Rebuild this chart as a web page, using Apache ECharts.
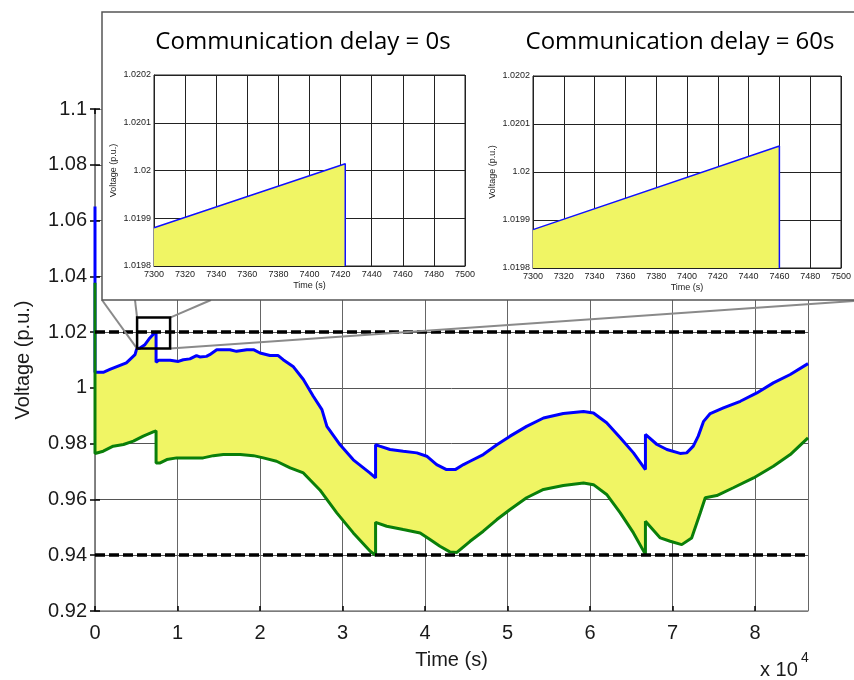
<!DOCTYPE html>
<html>
<head>
<meta charset="utf-8">
<script src="https://cdn.jsdelivr.net/npm/echarts@6/dist/echarts.min.js"></script>
<style>html,body{margin:0;padding:0;background:#fff}#c{width:854px;height:680px}</style>
</head>
<body>
<div id="c"></div>
<script>
// ---------------- data ----------------
// main chart: time (s) vs voltage (p.u.)
const upperVoltage = [
  [0,1.065],[0,1.0056],[1000,1.0056],[1800,1.0066],[3800,1.0090],[4850,1.0119],[5050,1.0140],[5450,1.0143],
  [6050,1.0155],[6650,1.0179],[7150,1.0195],[7400,1.0200],[7400,1.0092],[7700,1.0099],[9100,1.0099],
  [10100,1.0095],[10700,1.0101],[11500,1.0104],[12300,1.0116],[12700,1.0111],[13500,1.0113],[13900,1.0119],
  [14750,1.0137],[16350,1.0137],[17150,1.0131],[18400,1.0137],[19200,1.0137],[20000,1.0125],[21200,1.0116],
  [22200,1.0116],[22800,1.0101],[24000,1.0077],[25250,1.0030],[26450,0.9970],[27500,0.9922],[28100,0.9862],
  [29700,0.9796],[31300,0.9742],[33300,0.9695],[34000,0.9677],[34000,0.9796],[34500,0.9791],[35750,0.9779],
  [37350,0.9773],[39000,0.9767],[40200,0.9755],[41400,0.9725],[42600,0.9707],[43650,0.9707],[44650,0.9725],
  [45450,0.9737],[47050,0.9761],[48700,0.9796],[50300,0.9827],[52300,0.9862],[54350,0.9892],[56750,0.9908],
  [59200,0.9915],[60400,0.9910],[62000,0.9875],[63650,0.9821],[65250,0.9767],[66700,0.9707],[66700,0.9833],
  [68100,0.9797],[69300,0.9779],[70900,0.9765],[71700,0.9767],[72500,0.9791],[73100,0.9827],[73750,0.9880],
  [74550,0.9908],[76150,0.9928],[78200,0.9952],[80200,0.9982],[82200,1.0018],[84250,1.0048],[86400,1.0087]
];
const lowerVoltage = [
  [0,1.0377],[0,0.9765],[1000,0.9773],[2200,0.9791],[3450,0.9797],[4650,0.9809],[5850,0.9827],[7050,0.9842],
  [7400,0.9846],[7400,0.9731],[7900,0.9731],[8700,0.9743],[9900,0.9749],[13100,0.9749],[14350,0.9757],
  [15550,0.9761],[17600,0.9761],[19200,0.9757],[20400,0.9749],[22000,0.9737],[23650,0.9713],[25250,0.9695],
  [27250,0.9634],[29300,0.9552],[31300,0.9480],[33350,0.9414],[34000,0.9400],[34000,0.9518],[35350,0.9504],
  [37350,0.9492],[39400,0.9480],[40600,0.9456],[41800,0.9432],[43000,0.9412],[43850,0.9410],[45450,0.9450],
  [47050,0.9486],[48700,0.9528],[50300,0.9564],[52300,0.9606],[54350,0.9636],[56750,0.9650],[59200,0.9659],
  [60400,0.9653],[62000,0.9618],[63650,0.9552],[65250,0.9480],[66700,0.9403],[66700,0.9522],[68500,0.9462],
  [69700,0.9450],[71100,0.9438],[72300,0.9462],[73350,0.9552],[73950,0.9606],[75350,0.9614],[77350,0.9642],
  [79800,0.9677],[82200,0.9719],[84250,0.9761],[86400,0.9821]
];
const voltageLimits = [1.02, 0.94];
// zoom window shown on main chart [t0, t1, v0, v1]
const zoomWindow = [5100, 9100, 1.0141, 1.0252];

// inset charts
const insetTitles = ['Communication delay = 0s', 'Communication delay = 60s'];
const delay0 = [[7300,1.01988],[7423,1.020014],[7423,1.0198]];
const delay60 = [[7300,1.01988],[7460,1.020054],[7460,1.0198]];
const insetLimit = 1.02;

// ---------------- chart ----------------
const chart = echarts.init(document.getElementById('c'), null, {renderer:'canvas'});
const FONT = 'Liberation Sans, Arial, sans-serif';
const YELLOW = '#f0f564';

function insetX(grid){
  return {gridIndex:grid, type:'value', min:7300, max:7500, interval:20, z:60,
    name:'Time (s)', nameLocation:'middle', nameGap:15,
    nameTextStyle:{fontSize:9, color:'#222', fontFamily:FONT},
    axisLine:{lineStyle:{color:'#222', width:1}}, axisTick:{inside:true, length:2, lineStyle:{color:'#222'}},
    axisLabel:{fontSize:9, color:'#222', margin:4, interval:0, fontFamily:FONT, formatter:v=>String(v)},
    splitLine:{lineStyle:{color:'#222', width:1}}};
}
function insetY(grid){
  return {gridIndex:grid, type:'value', min:1.0198, max:1.0202, interval:0.0001, z:60,
    name:'Voltage (p.u.)', nameLocation:'middle', nameGap:36,
    nameTextStyle:{fontSize:9, color:'#222', fontFamily:FONT},
    axisLine:{lineStyle:{color:'#222', width:1}}, axisTick:{inside:true, length:2, lineStyle:{color:'#222'}},
    axisLabel:{fontSize:9, color:'#222', margin:3, fontFamily:FONT, formatter:v=>String(+v.toFixed(4))},
    splitLine:{lineStyle:{color:'#222', width:1}}};
}
function insetSeries(grid, data){
  return {type:'line', xAxisIndex:grid+1, yAxisIndex:grid+1, data:data, showSymbol:false, z:61,
    lineStyle:{color:'#1010ff', width:1.5}, areaStyle:{color:YELLOW, opacity:1, origin:'start'},
    clip:true, silent:true, animation:false,
    markLine:{symbol:'none', silent:true, animation:false, label:{show:false},
      lineStyle:{color:'#000', type:[4,2], width:1.5}, data:[{yAxis:insetLimit}]}};
}

const option = {
  animation:false,
  backgroundColor:'#fff',
  grid:[
    {left:95, right:46, top:109, bottom:69},
    {left:154, top:75, width:311, height:191, show:true, borderColor:'#222', borderWidth:1, z:60},
    {left:533, top:76, width:310, height:192, show:true, borderColor:'#222', borderWidth:1, z:60}
  ],
  xAxis:[
    {gridIndex:0, type:'value', min:0, max:86400, interval:10000, position:'bottom',
      name:'Time (s)', nameLocation:'middle', nameGap:39,
      nameTextStyle:{fontSize:20, color:'#1a1a1a', fontFamily:FONT},
      axisLine:{lineStyle:{color:'#888', width:1.5}},
      axisTick:{inside:true, length:5, lineStyle:{color:'#000', width:1.5}},
      axisLabel:{fontSize:20, color:'#1a1a1a', margin:12, fontFamily:FONT, showMaxLabel:false,
        formatter:v=>String(v/10000)},
      splitLine:{show:true, lineStyle:{color:'#666', width:1}}},
    {gridIndex:0, type:'value', min:0, max:86400, interval:10000, position:'top',
      axisLine:{lineStyle:{color:'#888', width:1}},
      axisTick:{inside:true, length:5, lineStyle:{color:'#000', width:1.5}},
      axisLabel:{show:false}, splitLine:{show:false}},
    insetX(1), insetX(2)
  ],
  yAxis:[
    {gridIndex:0, type:'value', min:0.92, max:1.1, interval:0.02, position:'left',
      name:'Voltage (p.u.)', nameLocation:'middle', nameGap:62,
      nameTextStyle:{fontSize:20, color:'#1a1a1a', fontFamily:FONT},
      axisLine:{lineStyle:{color:'#555', width:1.5}},
      axisTick:{inside:true, length:5, lineStyle:{color:'#000', width:1.5}},
      axisLabel:{fontSize:20, color:'#1a1a1a', margin:8, fontFamily:FONT,
        formatter:v=>String(+v.toFixed(2))},
      splitLine:{show:true, lineStyle:{color:'#555', width:1}}},
    {gridIndex:0, type:'value', min:0.92, max:1.1, interval:0.02, position:'right',
      axisLine:{lineStyle:{color:'#888', width:1.5}},
      axisTick:{inside:true, length:5, lineStyle:{color:'#000', width:1.5}},
      axisLabel:{show:false}, splitLine:{show:false}},
    insetY(1), insetY(2)
  ],
  series:[
    {type:'custom', xAxisIndex:0, yAxisIndex:0, z:1, silent:true, data:[[0,1]],
      renderItem:function(params, api){
        if (params.dataIndex > 0) return;
        const pts = upperVoltage.map(p=>api.coord(p))
          .concat(lowerVoltage.slice().reverse().map(p=>api.coord(p)));
        return {type:'polygon', shape:{points:pts}, style:{fill:YELLOW, stroke:null}};
      }},
    {type:'line', xAxisIndex:0, yAxisIndex:0, data:upperVoltage, showSymbol:false, z:2, silent:true,
      lineStyle:{color:'#0000ff', width:3}},
    {type:'line', xAxisIndex:0, yAxisIndex:0, data:lowerVoltage, showSymbol:false, z:3, silent:true,
      lineStyle:{color:'#0a7f0a', width:3}},
    {type:'line', xAxisIndex:0, yAxisIndex:0, data:[], z:4, silent:true,
      markLine:{symbol:'none', silent:true, animation:false, label:{show:false},
        lineStyle:{color:'#000', type:[10,4], width:3.5},
        data:voltageLimits.map(v=>({yAxis:v}))}},
    insetSeries(1, delay0),
    insetSeries(2, delay60)
  ]
};
chart.setOption(option);

// zoom window box and connector lines (pixel positions from the axis scales)
const tl = chart.convertToPixel({gridIndex:0}, [zoomWindow[0], zoomWindow[3]]);
const br = chart.convertToPixel({gridIndex:0}, [zoomWindow[1], zoomWindow[2]]);
const insetBox = {x:102, y:12, w:770, h:288};
const grey = {stroke:'#8a8a8a', lineWidth:2};
chart.setOption({
  graphic:[
    {type:'line', z:5, silent:true, shape:{x1:tl[0], y1:br[1], x2:insetBox.x, y2:insetBox.y+insetBox.h}, style:grey},
    {type:'line', z:5, silent:true, shape:{x1:tl[0], y1:tl[1], x2:135, y2:insetBox.y+insetBox.h}, style:grey},
    {type:'line', z:5, silent:true, shape:{x1:br[0], y1:tl[1], x2:211, y2:insetBox.y+insetBox.h}, style:grey},
    {type:'line', z:5, silent:true, shape:{x1:br[0], y1:br[1], x2:854, y2:insetBox.y+insetBox.h+1}, style:grey},
    {type:'rect', z:6, silent:true, shape:{x:tl[0], y:tl[1], width:br[0]-tl[0], height:br[1]-tl[1]},
      style:{fill:null, stroke:'#000', lineWidth:2.5}},
    {type:'rect', z:50, silent:true, shape:{x:insetBox.x, y:insetBox.y, width:insetBox.w, height:insetBox.h},
      style:{fill:'#fff', stroke:'#555', lineWidth:1.5}},
    {type:'text', z:62, silent:true, x:303, y:42,
      style:{text:insetTitles[0], fontSize:24, fontFamily:'Open Sans', fill:'#000', align:'center', verticalAlign:'middle'}},
    {type:'text', z:62, silent:true, x:680, y:42,
      style:{text:insetTitles[1], fontSize:24, fontFamily:'Open Sans', fill:'#000', align:'center', verticalAlign:'middle'}},
    {type:'text', z:62, silent:true, x:760, y:660,
      style:{text:'x 10', fontSize:20, fontFamily:FONT, fill:'#1a1a1a'}},
    {type:'text', z:62, silent:true, x:801, y:651,
      style:{text:'4', fontSize:14, fontFamily:FONT, fill:'#1a1a1a'}}
  ]
});
</script>
</body>
</html>
